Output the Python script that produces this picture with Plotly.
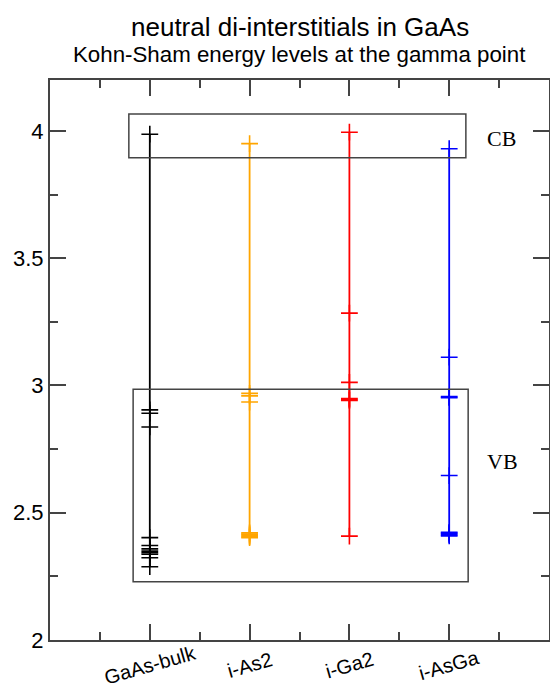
import plotly.graph_objects as go

categories = ["GaAs-bulk", "i-As2", "i-Ga2", "i-AsGa"]
positions = [1, 2, 3, 4]
colors = ["#000000", "#FFA500", "#FF0000", "#0000FF"]

levels_gaas_bulk = [2.288, 2.323, 2.337, 2.343, 2.349, 2.358, 2.371, 2.402, 2.837, 2.891, 2.904, 3.987]
levels_i_as2 = [2.402, 2.406, 2.411, 2.416, 2.421, 2.935, 2.959, 2.969, 3.950]
levels_i_ga2 = [2.408, 2.941, 2.945, 2.949, 3.012, 3.284, 3.995]
levels_i_asga = [2.409, 2.414, 2.419, 2.423, 2.646, 2.952, 2.956, 3.111, 3.930]

all_levels = [levels_gaas_bulk, levels_i_as2, levels_i_ga2, levels_i_asga]

y_tickvals = [2, 2.5, 3, 3.5, 4]
y_ticktext = ["2", "2.5", "3", "3.5", "4"]

cb_box = dict(x0=0.79, x1=4.167, y0=3.895, y1=4.066)
vb_box = dict(x0=0.833, x1=4.19, y0=2.229, y1=2.985)

fig = go.Figure()
for pos, lv, col in zip(positions, all_levels, colors):
    fig.add_trace(go.Scatter(
        x=[pos] * len(lv), y=sorted(lv), mode="lines+markers",
        line=dict(color=col, width=1.8),
        marker=dict(symbol="cross-thin", size=12, line=dict(color=col, width=1.6)),
        showlegend=False, hoverinfo="y"))

frame_col = "#444444"
for b in (cb_box, vb_box):
    fig.add_shape(type="rect", xref="x", yref="y", line=dict(color=frame_col, width=1.5),
                  **b)

fig.add_annotation(x=4.52, y=3.969, xref="x", yref="y", text="CB", showarrow=False,
                   font=dict(family="Liberation Serif", size=22, color="#000"))
fig.add_annotation(x=4.53, y=2.70, xref="x", yref="y", text="VB", showarrow=False,
                   font=dict(family="Liberation Serif", size=22, color="#000"))

# category labels, rotated and centred under ticks
for pos, cat in zip(positions, categories):
    fig.add_annotation(x=pos, y=-0.0446, xref="x", yref="paper", text=cat, showarrow=False,
                       textangle=-16, xanchor="center", yanchor="middle",
                       font=dict(family="Liberation Sans", size=20, color="#000"))

fig.update_layout(
    width=550, height=690,
    margin=dict(l=50, r=1, t=80, b=50, autoexpand=False),
    paper_bgcolor="white", plot_bgcolor="white",
    font=dict(family="Liberation Sans", color="#000"),
    xaxis=dict(range=[0, 5], tickvals=positions, ticktext=categories, showticklabels=False,
               ticks="inside", ticklen=16, tickwidth=1.5, tickcolor=frame_col,
               minor=dict(ticks="inside", ticklen=8, tickwidth=1.5, tickcolor=frame_col,
                          tickvals=[0.5, 1.5, 2.5, 3.5, 4.5]),
               showline=True, linecolor=frame_col, linewidth=2, mirror="allticks",
               showgrid=False, zeroline=False),
    yaxis=dict(range=[2, 4.2], tickvals=y_tickvals, ticktext=y_ticktext,
               ticks="inside", ticklen=16, tickwidth=1.5, tickcolor=frame_col,
               minor=dict(ticks="inside", ticklen=8, tickwidth=1.5, tickcolor=frame_col,
                          tickvals=[2.25, 2.75, 3.25, 3.75]),
               tickfont=dict(size=22, family="Liberation Sans", color="#000"),
               showline=True, linecolor=frame_col, linewidth=2, mirror="allticks",
               showgrid=False, zeroline=False, automargin=False),
)

def py(pix):
    return (640 - pix) / 560

fig.add_annotation(x=0.5, y=py(27), xref="paper", yref="paper", text="neutral di-interstitials in GaAs",
                   showarrow=False, yanchor="middle",
                   font=dict(family="Liberation Sans", size=26, color="#000"))
fig.add_annotation(x=0.5, y=py(55), xref="paper", yref="paper", text="Kohn-Sham energy levels at the gamma point",
                   showarrow=False, yanchor="middle",
                   font=dict(family="Liberation Sans", size=22.3, color="#000"))

fig.write_html("out.html", config={"displayModeBar": False},
               post_script="document.body.style.margin='0';document.body.style.overflow='hidden';")
